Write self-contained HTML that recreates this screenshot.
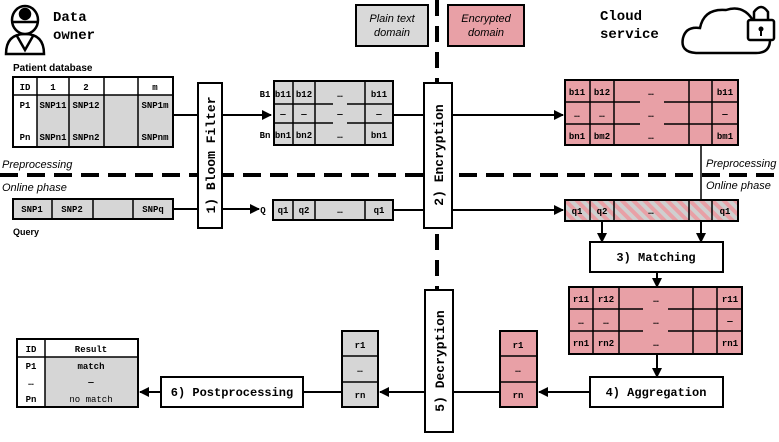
<!DOCTYPE html>
<html><head><meta charset="utf-8"><style>
html,body{margin:0;padding:0;background:#fff;}
svg{display:block;}
.m{font-family:"Liberation Mono",monospace;font-weight:bold;}
.s{font-family:"Liberation Sans",sans-serif;}
</style></head><body>
<svg width="779" height="442" viewBox="0 0 779 442" xmlns="http://www.w3.org/2000/svg">
<defs>
<pattern id="hat" width="8" height="8" patternUnits="userSpaceOnUse" patternTransform="rotate(-45)">
<rect width="8" height="8" fill="#cfcfcf"/><rect width="4" height="8" fill="#e8a0a6"/>
</pattern>
<marker id="ar" markerWidth="10" markerHeight="10" refX="9" refY="5" orient="auto" markerUnits="userSpaceOnUse">
<path d="M0,0 L10,5 L0,10 z" fill="#000"/></marker>
</defs>
<g stroke="#000" fill="none">
<line x1="437" y1="0" x2="437" y2="442" stroke-width="4" stroke-dasharray="16 10"/>
<line x1="0" y1="175" x2="779" y2="175" stroke-width="4" stroke-dasharray="18 9"/>
</g>
<!-- person icon -->
<g stroke="#000" stroke-width="2.5" fill="#fff">
<path d="M6,54 Q6,34 25,34 Q44,34 44,54 Z"/>
<path d="M17,36 L25,50 L33,36" fill="none"/>
<ellipse cx="25" cy="20" rx="13" ry="14"/>
<circle cx="25" cy="14" r="5" fill="#000"/>
<line x1="12" y1="22" x2="38" y2="22"/>
</g>
<text class="m" x="53" y="21" font-size="14">Data</text>
<text class="m" x="53" y="39" font-size="14">owner</text>
<rect x="356" y="5" width="72" height="41" fill="#d9d9d9" stroke="#000" stroke-width="2"/>
<text class="s" x="392" y="22" font-size="11" font-style="italic" text-anchor="middle">Plain text</text>
<text class="s" x="392" y="36" font-size="11" font-style="italic" text-anchor="middle">domain</text>
<rect x="448" y="5" width="76" height="41" fill="#e8a0a6" stroke="#000" stroke-width="2"/>
<text class="s" x="486" y="22" font-size="11" font-style="italic" text-anchor="middle">Encrypted</text>
<text class="s" x="486" y="36" font-size="11" font-style="italic" text-anchor="middle">domain</text>
<text class="m" x="600" y="20" font-size="14">Cloud</text>
<text class="m" x="600" y="38" font-size="14">service</text>
<!-- cloud -->
<path d="M696,53 Q680,52 683,38 Q686,26 700,28 Q704,8 726,10 Q744,4 754,22 Q770,24 770,40 Q770,53 756,53 Z" fill="#fff" stroke="#000" stroke-width="2.5"/>
<rect x="748" y="20" width="26" height="20" rx="2" fill="#fff" stroke="#000" stroke-width="2.5"/>
<path d="M754,20 V12 Q761,2 768,12 V20" fill="none" stroke="#000" stroke-width="2.5"/>
<circle cx="761" cy="29" r="2.5"/><rect x="760" y="29" width="2" height="7"/>

<text class="s" x="13" y="71" font-size="10" font-weight="bold">Patient database</text>
<rect x="37" y="95" width="136" height="52" fill="#d6d6d6"/>
<rect x="13" y="77" width="160" height="70" fill="none" stroke="#000" stroke-width="2"/>
<g stroke="#000" stroke-width="1.5">
<line x1="13" y1="95" x2="173" y2="95"/>
<line x1="37" y1="77" x2="37" y2="147"/><line x1="69" y1="77" x2="69" y2="147"/>
<line x1="104" y1="77" x2="104" y2="147"/><line x1="138" y1="77" x2="138" y2="147"/>
</g>
<g class="m" font-size="9" text-anchor="middle">
<text x="25" y="90">ID</text><text x="53" y="90">1</text><text x="86" y="90">2</text><text x="155" y="90">m</text>
<text x="25" y="108">P1</text><text x="53" y="108">SNP11</text><text x="86" y="108">SNP12</text><text x="155" y="108">SNP1m</text>
<text x="25" y="140">Pn</text><text x="53" y="140">SNPn1</text><text x="86" y="140">SNPn2</text><text x="155" y="140">SNPnm</text>
</g>
<text class="s" x="2" y="168" font-size="11" font-style="italic">Preprocessing</text>
<text class="s" x="2" y="191" font-size="11" font-style="italic">Online phase</text>
<rect x="13" y="199" width="160" height="20" fill="#d6d6d6" stroke="#000" stroke-width="2"/>
<g stroke="#000" stroke-width="1.5"><line x1="52" y1="199" x2="52" y2="219"/><line x1="93" y1="199" x2="93" y2="219"/><line x1="133" y1="199" x2="133" y2="219"/></g>
<g class="m" font-size="9" text-anchor="middle"><text x="32" y="212">SNP1</text><text x="72" y="212">SNP2</text><text x="153" y="212">SNPq</text></g>
<text class="s" x="13" y="235" font-size="9" font-weight="bold">Query</text>
<rect x="198" y="83" width="24" height="145" fill="#fff" stroke="#000" stroke-width="2"/>
<text class="m" font-size="13" transform="translate(215,155) rotate(-90)" text-anchor="middle">1) Bloom Filter</text>
<g stroke="#000" stroke-width="2">
<line x1="173" y1="115" x2="198" y2="115"/><line x1="222" y1="115" x2="271" y2="115" marker-end="url(#ar)"/>
<line x1="173" y1="209" x2="198" y2="209"/><line x1="222" y1="209" x2="259" y2="209" marker-end="url(#ar)"/>
</g>
<rect x="274" y="81" width="119" height="64" fill="#d6d6d6" stroke="#000" stroke-width="2"/>
<g stroke="#000" stroke-width="1.5">
<line x1="293" y1="81" x2="293" y2="145"/><line x1="315" y1="81" x2="315" y2="145"/><line x1="365" y1="81" x2="365" y2="145"/>
<line x1="274" y1="104" x2="315" y2="104"/><line x1="365" y1="104" x2="393" y2="104"/><line x1="315" y1="104" x2="333" y2="104"/><line x1="347" y1="104" x2="365" y2="104"/>
<line x1="274" y1="123" x2="315" y2="123"/><line x1="365" y1="123" x2="393" y2="123"/><line x1="315" y1="123" x2="333" y2="123"/><line x1="347" y1="123" x2="365" y2="123"/>
</g>
<g class="m" font-size="9" text-anchor="middle">
<text x="265" y="97">B1</text><text x="265" y="138">Bn</text>
<text x="283" y="97">b11</text><text x="304" y="97">b12</text><text x="340" y="97">…</text><text x="379" y="97">b11</text>
<text x="283" y="117">—</text><text x="304" y="117">—</text><text x="340" y="117">—</text><text x="379" y="117">—</text>
<text x="283" y="138">bn1</text><text x="304" y="138">bn2</text><text x="340" y="138">…</text><text x="379" y="138">bn1</text>
</g>
<text class="m" x="263" y="213" font-size="9" text-anchor="middle">Q</text>
<rect x="273" y="200" width="120" height="20" fill="#d6d6d6" stroke="#000" stroke-width="2"/>
<g stroke="#000" stroke-width="1.5"><line x1="293" y1="200" x2="293" y2="220"/><line x1="315" y1="200" x2="315" y2="220"/><line x1="365" y1="200" x2="365" y2="220"/></g>
<g class="m" font-size="9" text-anchor="middle"><text x="283" y="213">q1</text><text x="304" y="213">q2</text><text x="340" y="213">…</text><text x="379" y="213">q1</text></g>
<rect x="424" y="83" width="28" height="145" fill="#fff" stroke="#000" stroke-width="2"/>
<text class="m" font-size="13" transform="translate(443,155) rotate(-90)" text-anchor="middle">2) Encryption</text>
<g stroke="#000" stroke-width="2">
<line x1="393" y1="115" x2="424" y2="115"/><line x1="452" y1="115" x2="563" y2="115" marker-end="url(#ar)"/>
<line x1="393" y1="210" x2="424" y2="210"/><line x1="452" y1="210" x2="563" y2="210" marker-end="url(#ar)"/>
</g>
<rect x="565" y="80" width="173" height="65" fill="#e8a0a6" stroke="#000" stroke-width="2"/>
<g stroke="#000" stroke-width="1.5">
<line x1="590" y1="80" x2="590" y2="145"/><line x1="614" y1="80" x2="614" y2="145"/><line x1="689" y1="80" x2="689" y2="145"/><line x1="712" y1="80" x2="712" y2="145"/>
<line x1="565" y1="102" x2="614" y2="102"/><line x1="689" y1="102" x2="738" y2="102"/><line x1="614" y1="102" x2="640" y2="102"/><line x1="664" y1="102" x2="689" y2="102"/>
<line x1="565" y1="124" x2="614" y2="124"/><line x1="689" y1="124" x2="738" y2="124"/><line x1="614" y1="124" x2="640" y2="124"/><line x1="664" y1="124" x2="689" y2="124"/>
</g>
<g class="m" font-size="9" text-anchor="middle">
<text x="577" y="95">b11</text><text x="602" y="95">b12</text><text x="651" y="95">…</text><text x="725" y="95">b11</text>
<text x="577" y="117">…</text><text x="602" y="117">…</text><text x="651" y="117">…</text><text x="725" y="117">—</text>
<text x="577" y="139">bn1</text><text x="602" y="139">bm2</text><text x="651" y="139">…</text><text x="725" y="139">bm1</text>
</g>
<text class="s" x="706" y="167" font-size="11" font-style="italic">Preprocessing</text>
<text class="s" x="706" y="189" font-size="11" font-style="italic">Online phase</text>
<rect x="565" y="200" width="173" height="21" fill="url(#hat)" stroke="#000" stroke-width="2"/>
<g stroke="#000" stroke-width="1.5"><line x1="590" y1="200" x2="590" y2="221"/><line x1="614" y1="200" x2="614" y2="221"/><line x1="689" y1="200" x2="689" y2="221"/><line x1="712" y1="200" x2="712" y2="221"/></g>
<g class="m" font-size="9" text-anchor="middle"><text x="577" y="214">q1</text><text x="602" y="214">q2</text><text x="651" y="214">…</text><text x="725" y="214">q1</text></g>
<g stroke="#000" stroke-width="2">
<line x1="701" y1="145" x2="701" y2="200" stroke-width="1.5"/>
<line x1="602" y1="221" x2="602" y2="242" marker-end="url(#ar)"/>
<line x1="701" y1="221" x2="701" y2="242" marker-end="url(#ar)"/>
</g>
<rect x="590" y="242" width="133" height="30" fill="#fff" stroke="#000" stroke-width="2"/>
<text class="m" x="656" y="261" font-size="12" text-anchor="middle">3) Matching</text>
<line x1="657" y1="272" x2="657" y2="287" stroke="#000" stroke-width="2" marker-end="url(#ar)"/>
<rect x="569" y="287" width="173" height="67" fill="#e8a0a6" stroke="#000" stroke-width="2"/>
<g stroke="#000" stroke-width="1.5">
<line x1="593" y1="287" x2="593" y2="354"/><line x1="619" y1="287" x2="619" y2="354"/><line x1="693" y1="287" x2="693" y2="354"/><line x1="717" y1="287" x2="717" y2="354"/>
<line x1="569" y1="309" x2="619" y2="309"/><line x1="693" y1="309" x2="742" y2="309"/><line x1="619" y1="309" x2="643" y2="309"/><line x1="668" y1="309" x2="693" y2="309"/>
<line x1="569" y1="331" x2="619" y2="331"/><line x1="693" y1="331" x2="742" y2="331"/><line x1="619" y1="331" x2="643" y2="331"/><line x1="668" y1="331" x2="693" y2="331"/>
</g>
<g class="m" font-size="9" text-anchor="middle">
<text x="581" y="302">r11</text><text x="606" y="302">r12</text><text x="656" y="302">…</text><text x="730" y="302">r11</text>
<text x="581" y="324">…</text><text x="606" y="324">…</text><text x="656" y="324">…</text><text x="730" y="324">—</text>
<text x="581" y="346">rn1</text><text x="606" y="346">rn2</text><text x="656" y="346">…</text><text x="730" y="346">rn1</text>
</g>
<line x1="657" y1="354" x2="657" y2="377" stroke="#000" stroke-width="2" marker-end="url(#ar)"/>
<rect x="590" y="377" width="133" height="30" fill="#fff" stroke="#000" stroke-width="2"/>
<text class="m" x="656" y="396" font-size="12" text-anchor="middle">4) Aggregation</text>
<rect x="500" y="331" width="37" height="76" fill="#e8a0a6" stroke="#000" stroke-width="2"/>
<g stroke="#000" stroke-width="1.5"><line x1="500" y1="356" x2="537" y2="356"/><line x1="500" y1="382" x2="537" y2="382"/></g>
<g class="m" font-size="9" text-anchor="middle"><text x="518" y="348">r1</text><text x="518" y="372">…</text><text x="518" y="398">rn</text></g>
<rect x="425" y="290" width="28" height="142" fill="#fff" stroke="#000" stroke-width="2"/>
<text class="m" font-size="13" transform="translate(444,361) rotate(-90)" text-anchor="middle">5) Decryption</text>
<rect x="342" y="331" width="36" height="76" fill="#d6d6d6" stroke="#000" stroke-width="2"/>
<g stroke="#000" stroke-width="1.5"><line x1="342" y1="356" x2="378" y2="356"/><line x1="342" y1="382" x2="378" y2="382"/></g>
<g class="m" font-size="9" text-anchor="middle"><text x="360" y="348">r1</text><text x="360" y="372">…</text><text x="360" y="398">rn</text></g>
<g stroke="#000" stroke-width="2">
<line x1="590" y1="392" x2="539" y2="392" marker-end="url(#ar)"/>
<line x1="500" y1="392" x2="453" y2="392"/>
<line x1="425" y1="392" x2="380" y2="392" marker-end="url(#ar)"/>
<line x1="342" y1="392" x2="303" y2="392"/>
<line x1="161" y1="392" x2="140" y2="392" marker-end="url(#ar)"/>
</g>
<rect x="161" y="377" width="142" height="30" fill="#fff" stroke="#000" stroke-width="2"/>
<text class="m" x="232" y="396" font-size="12" text-anchor="middle">6) Postprocessing</text>
<rect x="45" y="357" width="93" height="50" fill="#d6d6d6"/>
<rect x="17" y="339" width="121" height="68" fill="none" stroke="#000" stroke-width="2"/>
<g stroke="#000" stroke-width="1.5"><line x1="17" y1="357" x2="138" y2="357"/><line x1="45" y1="339" x2="45" y2="407"/></g>
<g class="m" font-size="9" text-anchor="middle">
<text x="31" y="352">ID</text><text x="91" y="352">Result</text>
<text x="31" y="369">P1</text><text x="91" y="369">match</text>
<text x="31" y="385">…</text><text x="91" y="385">—</text>
<text x="31" y="402">Pn</text><text x="91" y="402" font-weight="normal">no match</text>
</g>
</svg>
</body></html>
